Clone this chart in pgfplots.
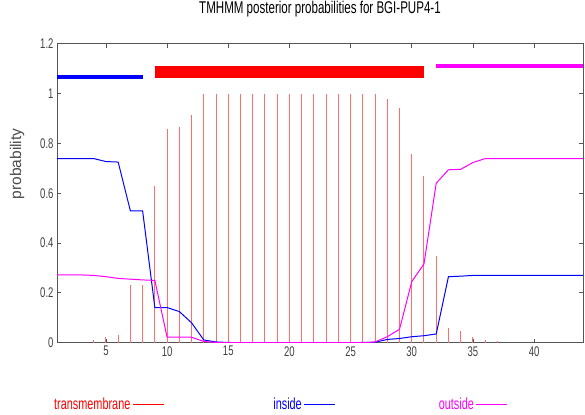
\documentclass[border=0pt]{standalone}
\usepackage{fontspec}
\setmainfont{Liberation Sans}[FakeStretch=0.68]
\newfontfamily\ylfont{Liberation Sans}
\usepackage{pgfplots}
\pgfplotsset{compat=1.18}
\definecolor{tmred}{RGB}{255,110,110}
\definecolor{frame}{RGB}{85,85,85}
\definecolor{mag}{RGB}{255,0,255}
\definecolor{blu}{RGB}{0,0,255}
\definecolor{rd}{RGB}{255,0,0}
\begin{document}
\begin{tikzpicture}
\begin{axis}[
  name=ax,
  scale only axis, width=526bp, height=299bp,
  xmin=1, xmax=44, ymin=0, ymax=1.2,
  xtick={5,10,15,20,25,30,35,40},
  ytick={0,0.2,0.4,0.6,0.8,1,1.2},
  /pgf/number format/assume math mode=true,
  tick align=inside, major tick length=4bp,
  axis line style={frame, line width=0.8bp},
  tick style={frame, line width=0.8bp},
  ticklabel style={font=\fontsize{14bp}{14bp}\selectfont, text=black!75},
  title={TMHMM posterior probabilities for BGI-PUP4-1},
  title style={font=\fontsize{17bp}{17bp}\selectfont, at={(axis description cs:0.5,1)}, anchor=center, yshift=28.5bp},
  ylabel={probability},
  ylabel style={font=\ylfont\fontsize{15.5bp}{15.5bp}\selectfont, at={(axis description cs:-0.076,0.598)}, anchor=center, text=black!70},
  legend plot pos=right,
  legend columns=3,
  legend image code/.code={\draw[#1] (0bp,0bp) -- (31bp,0bp);},
  legend style={at={(axis description cs:-0.0095,-0.208)}, anchor=west, draw=none, fill=none, inner sep=0pt,
    font=\fontsize{16bp}{16bp}\selectfont,
    /tikz/column 2/.style={column sep=107bp},
    /tikz/column 4/.style={column sep=101bp}},
]
\addplot[ycomb, tmred, line width=1bp, forget plot] coordinates {
(4,0.011) (5,0.024) (6,0.031) (7,0.232) (8,0.232) (9,0.627) (10,0.857) (11,0.866) (12,0.914)
(13,0.998) (14,0.998) (15,1.0) (16,1.0) (17,1.0) (18,1.0) (19,1.0) (20,1.0) (21,1.0) (22,1.0)
(23,1.0) (24,1.0) (25,1.0) (26,1.0) (27,0.998) (28,0.977) (29,0.943) (30,0.758) (31,0.671)
(32,0.348) (33,0.058) (34,0.048) (35,0.024) (36,0.011) (37,0.008)
};
\addplot[blu, line width=1bp, forget plot] coordinates {
(1,0.739) (2,0.739) (3,0.739) (4,0.739) (5,0.727) (6,0.725) (7,0.529) (8,0.529) (9,0.141)
(10,0.141) (11,0.125) (12,0.08) (13,0.011) (14,0.003) (15,0.001) (16,0) (17,0) (18,0) (19,0)
(20,0) (21,0) (22,0) (23,0) (24,0) (25,0) (26,0.001) (27,0.002) (28,0.013) (29,0.017)
(30,0.024) (31,0.028) (32,0.035) (33,0.265) (34,0.267) (35,0.27) (36,0.27) (37,0.27) (38,0.27)
(39,0.27) (40,0.27) (41,0.27) (42,0.27) (43,0.27) (44,0.27)
};
\addplot[mag, line width=1bp, forget plot] coordinates {
(1,0.272) (2,0.272) (3,0.272) (4,0.27) (5,0.265) (6,0.258) (7,0.255) (8,0.252) (9,0.25)
(10,0.022) (11,0.022) (12,0.022) (13,0.005) (14,0.001) (15,0) (16,0) (17,0) (18,0) (19,0)
(20,0) (21,0) (22,0) (23,0) (24,0) (25,0) (26,0) (27,0.003) (28,0.024) (29,0.054)
(30,0.245) (31,0.316) (32,0.64) (33,0.694) (34,0.696) (35,0.723) (36,0.739) (37,0.739)
(38,0.739) (39,0.739) (40,0.739) (41,0.739) (42,0.739) (43,0.739) (44,0.739)
};
\addplot[blu, line width=3.5bp, forget plot] coordinates {(1,1.066) (8,1.066)};
\addplot[rd, line width=12bp, forget plot] coordinates {(9,1.088) (31,1.088)};
\addplot[mag, line width=4bp, forget plot] coordinates {(32,1.11) (44,1.11)};
\addlegendimage{rd, line width=1bp}
\addlegendentry{\textcolor{rd}{transmembrane}}
\addlegendimage{blu, line width=1bp}
\addlegendentry{\textcolor{blu}{inside}}
\addlegendimage{mag, line width=1bp}
\addlegendentry{\textcolor{mag}{outside}}
\end{axis}
\pgfresetboundingbox
\path[use as bounding box] ([shift={(-57bp,-71.3bp)}]ax.south west) rectangle ([shift={(2bp,43.7bp)}]ax.north east);
\end{tikzpicture}
\end{document}
